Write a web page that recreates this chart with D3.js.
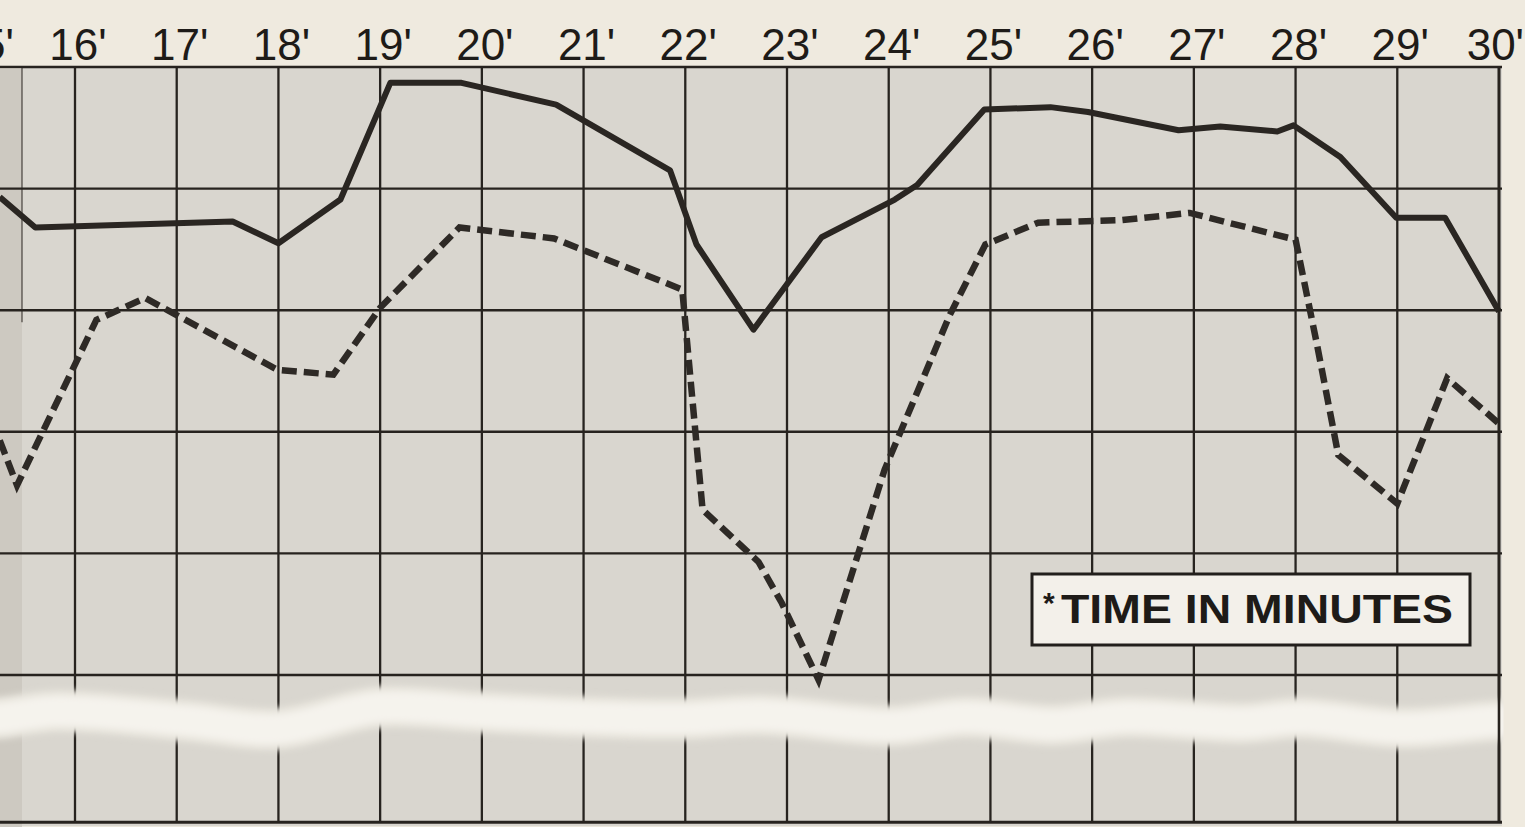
<!DOCTYPE html>
<html>
<head>
<meta charset="utf-8">
<script src="https://cdn.jsdelivr.net/npm/d3@7"></script>
<style>
  html, body { margin: 0; padding: 0; background: #efeadf; }
  svg { display: block; }
</style>
</head>
<body>
<svg id="chart" width="1525" height="827"></svg>
<script>
// ---- data (y in grid units, 0 = lowest grid line above the break) ----
const minuteTicks = [15, 16, 17, 18, 19, 20, 21, 22, 23, 24, 25, 26, 27, 28, 29, 30];
const tickLabels = ["15'", "16'", "17'", "18'", "19'", "20'", "21'", "22'", "23'", "24'", "25'", "26'", "27'", "28'", "29'", "30'"];
const gridLevels = [0, 1, 2, 3, 4, 5];

const solidMinutes = [15.26, 15.61, 17.55, 18.00, 18.61, 19.10, 19.80, 20.73, 21.85, 22.11, 22.67, 23.34, 24.06, 24.28, 24.94, 25.59, 25.96, 26.85, 27.26, 27.82, 27.98, 28.44, 28.99, 29.47, 30.00];
const solidValues  = [3.93, 3.68, 3.73, 3.55, 3.91, 4.87, 4.87, 4.69, 4.15, 3.54, 2.84, 3.60, 3.91, 4.03, 4.65, 4.67, 4.63, 4.48, 4.51, 4.47, 4.52, 4.26, 3.76, 3.76, 2.99];

const dashedMinutes = [15.26, 15.43, 16.21, 16.69, 17.99, 18.54, 19.00, 19.78, 20.71, 21.97, 22.17, 22.72, 22.95, 23.31, 23.96, 24.60, 24.95, 25.47, 26.28, 26.96, 28.00, 28.21, 28.42, 29.00, 29.49, 30.01];
const dashedValues  = [1.93, 1.56, 2.92, 3.10, 2.51, 2.47, 3.02, 3.68, 3.59, 3.17, 1.36, 0.93, 0.59, -0.04, 1.69, 2.96, 3.54, 3.72, 3.74, 3.80, 3.58, 2.72, 1.81, 1.41, 2.44, 2.06];

// centre line of the torn "break" strip (minutes, grid units)
const breakMinutes = [15.0, 15.26, 15.83, 17.12, 17.99, 18.99, 19.99, 20.99, 21.99, 22.74, 24.03, 24.75, 25.62, 26.33, 27.48, 28.05, 29.07, 29.93, 30.4];
const breakValues  = [-0.36, -0.354, -0.296, -0.378, -0.444, -0.263, -0.304, -0.345, -0.362, -0.329, -0.419, -0.345, -0.411, -0.345, -0.395, -0.354, -0.436, -0.378, -0.36];
const bottomLevel = -1.21;

const labelText = "TIME IN MINUTES";

// ---- layout ----
const svg = d3.select("#chart");
const W = 1525, H = 827;
const x = d3.scaleLinear().domain([16, 30]).range([75, 1499]);
const y = d3.scaleLinear().domain([0, 5]).range([675, 67]);
const plotLeft = 22, plotRight = 1502;

const ink = "#27231f";

svg.append("rect").attr("x", 0).attr("y", 0).attr("width", W).attr("height", H).attr("fill", "#efeadf");

svg.append("rect")
  .attr("x", plotLeft).attr("y", y(5))
  .attr("width", plotRight - plotLeft).attr("height", y(bottomLevel) - y(5) + 4)
  .attr("fill", "#d9d6cf");
svg.append("rect")
  .attr("x", 0).attr("y", y(5) + 2)
  .attr("width", plotLeft).attr("height", H - y(5))
  .attr("fill", "#cdc9c1");

const defs = svg.append("defs");
const f = defs.append("filter").attr("id", "soft")
  .attr("filterUnits", "userSpaceOnUse")
  .attr("x", -50).attr("y", 600).attr("width", W + 100).attr("height", 220);
f.append("feGaussianBlur").attr("stdDeviation", 3);
defs.append("clipPath").attr("id", "clipAll")
  .append("rect").attr("x", 0).attr("y", y(5) - 2).attr("width", plotRight + 2).attr("height", H);

// ---- grid ----
const grid = svg.append("g");
grid.selectAll("line.h").data(gridLevels).join("line")
  .attr("class", "h")
  .attr("x1", 0).attr("x2", plotRight)
  .attr("y1", d => y(d)).attr("y2", d => y(d))
  .attr("stroke", ink).attr("stroke-width", 2.4);
grid.append("line")
  .attr("x1", 0).attr("x2", plotRight)
  .attr("y1", y(bottomLevel)).attr("y2", y(bottomLevel))
  .attr("stroke", ink).attr("stroke-width", 3);
const vTicks = minuteTicks.filter(m => x(m) > 0);
grid.selectAll("line.v").data(vTicks).join("line")
  .attr("class", "v")
  .attr("x1", d => x(d)).attr("x2", d => x(d))
  .attr("y1", y(5)).attr("y2", y(bottomLevel))
  .attr("stroke", ink).attr("stroke-width", d => d === 30 ? 2.6 : 2.3);
grid.append("line")
  .attr("x1", plotLeft).attr("x2", plotLeft)
  .attr("y1", y(5)).attr("y2", y(2.9))
  .attr("stroke", ink).attr("stroke-width", 1.4).attr("opacity", 0.7);

// ---- data lines ----
const lineGen = d3.line().x(d => x(d[0])).y(d => y(d[1])).curve(d3.curveLinear);
const plotG = svg.append("g").attr("clip-path", "url(#clipAll)");

plotG.append("path")
  .datum(dashedMinutes.map((m, i) => [m, dashedValues[i]]))
  .attr("d", lineGen)
  .attr("fill", "none")
  .attr("stroke", "#2e2a26")
  .attr("stroke-width", 6.5)
  .attr("stroke-dasharray", "15,7")
  .attr("stroke-linejoin", "miter");

plotG.append("path")
  .datum(solidMinutes.map((m, i) => [m, solidValues[i]]))
  .attr("d", lineGen)
  .attr("fill", "none")
  .attr("stroke", "#2a2622")
  .attr("stroke-width", 6)
  .attr("stroke-linejoin", "round");

// ---- torn break strip ----
const breakGen = d3.line().x(d => x(d[0])).y(d => y(d[1])).curve(d3.curveCatmullRom);
const breakData = breakMinutes.map((m, i) => [m, breakValues[i]]);
svg.append("path")
  .datum(breakData)
  .attr("d", breakGen)
  .attr("fill", "none")
  .attr("stroke", "#e8e5dd")
  .attr("stroke-width", 42)
  .attr("filter", "url(#soft)");
svg.append("path")
  .datum(breakData)
  .attr("d", breakGen)
  .attr("fill", "none")
  .attr("stroke", "#f5f3ed")
  .attr("stroke-width", 30)
  .attr("filter", "url(#soft)");

svg.append("rect").attr("x", plotRight + 1.5).attr("y", 0).attr("width", W - plotRight).attr("height", H).attr("fill", "#efeadf");
svg.append("line")
  .attr("x1", x(30)).attr("x2", x(30)).attr("y1", y(5)).attr("y2", y(bottomLevel))
  .attr("stroke", ink).attr("stroke-width", 2.6);

// ---- tick labels on top ----
const lastIdx = minuteTicks.length - 1;
svg.append("g").selectAll("text").data(minuteTicks).join("text")
  .attr("x", (d, i) => i === lastIdx ? W - 1 : (i === 0 ? x(d) + 12 : x(d) + 3))
  .attr("y", 60)
  .attr("text-anchor", (d, i) => i === lastIdx ? "end" : "middle")
  .attr("font-family", "Liberation Sans, Arial, sans-serif")
  .attr("font-size", 44)
  .attr("fill", "#1e1b18")
  .text((d, i) => tickLabels[i]);

// ---- label box ----
const box = svg.append("g");
box.append("rect")
  .attr("x", 1032).attr("y", 574).attr("width", 438).attr("height", 71)
  .attr("fill", "#f3f0ea").attr("stroke", "#221f1c").attr("stroke-width", 3);
const t = box.append("text")
  .attr("x", 1043).attr("y", 623)
  .attr("font-family", "Liberation Sans, Arial, sans-serif")
  .attr("font-size", 41)
  .attr("font-weight", "bold")
  .attr("fill", "#1e1b18");
t.append("tspan").attr("font-size", 30).attr("dy", -10).text("*");
t.append("tspan").attr("dy", 10).attr("x", 1061)
  .attr("textLength", 392).attr("lengthAdjust", "spacingAndGlyphs")
  .text(labelText);
</script>
</body>
</html>
